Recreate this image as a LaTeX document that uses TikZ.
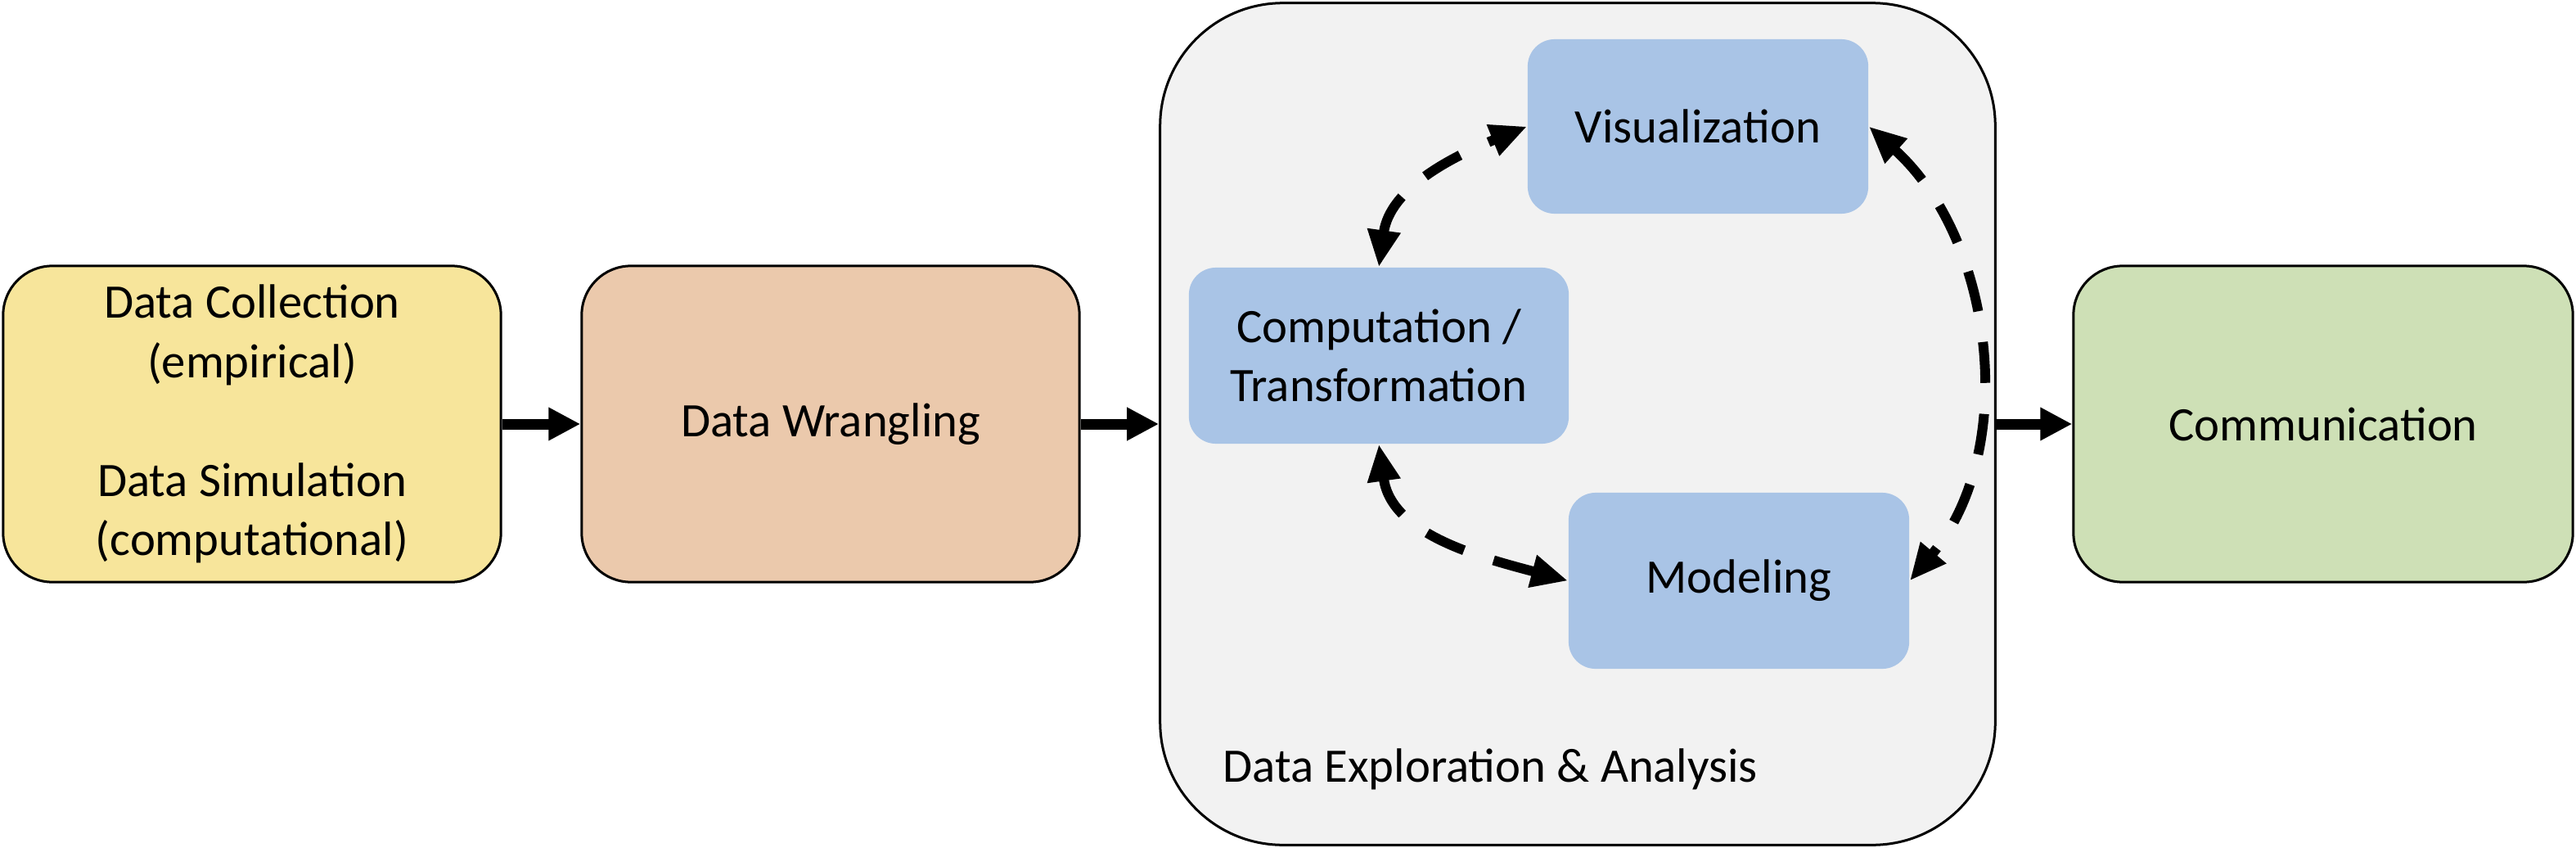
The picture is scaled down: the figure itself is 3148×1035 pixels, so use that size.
\documentclass[tikz,border=0pt]{standalone}
\usepackage{fontspec}
\setmainfont{Carlito}
\usetikzlibrary{arrows.meta}
\definecolor{cyel}{RGB}{247,229,155}
\definecolor{ctan}{RGB}{235,201,172}
\definecolor{cgrn}{RGB}{206,224,182}
\definecolor{cblu}{RGB}{169,196,230}
\definecolor{cgry}{RGB}{242,242,242}
\begin{document}
\begin{tikzpicture}[x=0.01cm,y=0.01cm,
  txt/.style={font=\fontsize{16.7}{20.6}\selectfont},
  mainbox/.style={txt, draw=black, line width=0.03cm, rounded corners=0.6cm, minimum width=6.08cm, minimum height=3.86cm, align=center, inner sep=0pt},
  bluebox/.style={txt, fill=cblu, rounded corners=0.33cm, minimum height=2.14cm, align=center, inner sep=0pt},
  flow/.style={line width=0.13cm, -{Triangle[length=0.39cm,width=0.38cm]}},
  loopline/.style={line width=0.12cm, dash pattern=on 0.5cm off 0.38cm,
     {Triangle[length=0.45cm,width=0.38cm]}-{Triangle[length=0.45cm,width=0.38cm]}}
]
\useasboundingbox (0,0) rectangle (3148,1035);
\node[mainbox, fill=cgry, minimum width=10.2cm, minimum height=10.28cm, rounded corners=1.5cm] (big) at (1928,517) {};
\node[mainbox, fill=cyel] (dc) at (308,517) {Data Collection\\(empirical)\\[20.6pt]Data Simulation\\(computational)};
\node[mainbox, fill=ctan] (dw) at (1015,517) {Data Wrangling};
\node[mainbox, fill=cgrn, minimum width=6.1cm] (comm) at (2839,517) {Communication};
\node[bluebox, minimum width=4.16cm, minimum height=2.13cm] (vis) at (2075,880.5) {Visualization};
\node[bluebox, minimum width=4.64cm, minimum height=2.15cm] (comp) at (1685,600.5) {Computation /\\Transformation};
\node[bluebox, minimum width=4.16cm, minimum height=2.15cm] (mod) at (2125,325.5) {Modeling};
\node[txt, anchor=base west, inner sep=0pt] (lbl) at (1494,80) {Data Exploration \& Analysis};
\draw[flow] (dc.east) -- (dw.west);
\draw[flow] (dw.east) -- (big.west);
\draw[flow] (big.east) -- (comm.west);
\draw[loopline] (comp.north) to[out=82, in=202, looseness=1] (vis.west);
\draw[loopline] (comp.south) to[out=-82, in=165, looseness=1] (mod.west);
\draw[loopline] (vis.east) to[out=-42, in=50, looseness=0.95] (mod.east);
\end{tikzpicture}
\end{document}
